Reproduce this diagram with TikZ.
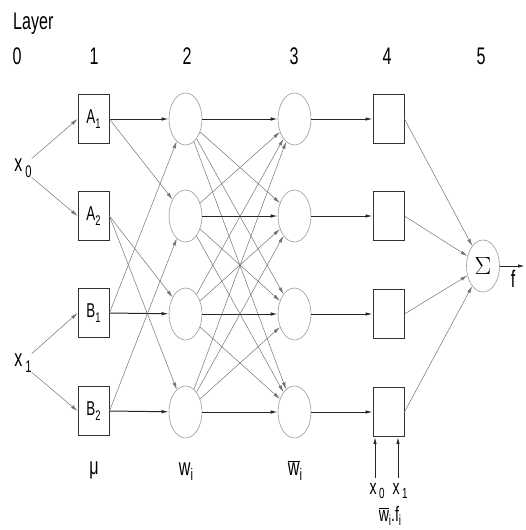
\documentclass[tikz,border=0pt]{standalone}
\usepackage{fontspec}
\setmainfont{Liberation Sans}[FakeStretch=0.67]
\usetikzlibrary{shapes.geometric,arrows.meta}
\newcommand{\lo}[1]{\raisebox{-0.45ex}{\scalebox{0.7}{#1}}}
\newcommand{\wbar}{$\overline{\mbox{w}}$}
\begin{document}
\begin{tikzpicture}[x=1pt,y=-1pt,
  tip/.style={-{Latex[length=7pt,width=3.5pt]}},
  strong/.style={tip, draw=black!85, line width=1pt},
  weak/.style={tip, draw=black!55, line width=0.5pt},
  box/.style={draw=black!80, line width=0.9pt, minimum width=31pt, minimum height=49pt, inner sep=0pt, font=\fontsize{20}{20}\selectfont},
  neuron/.style={ellipse, draw=black!40, line width=0.6pt, minimum width=33pt, minimum height=52pt, inner sep=0pt},
  lbl/.style={font=\fontsize{24}{24}\selectfont, inner sep=0pt},
  small/.style={font=\fontsize{21}{21}\selectfont, inner sep=0pt}]
\useasboundingbox (0,0) rectangle (526,530);
% header
\node[lbl, anchor=base west] (layer) at (13,29) {Layer};
\node[lbl, anchor=base] (h0) at (17,64) {0};
\node[lbl, anchor=base] (h1) at (94,64) {1};
\node[lbl, anchor=base] (h2) at (187,64) {2};
\node[lbl, anchor=base] (h3) at (294,64) {3};
\node[lbl, anchor=base] (h4) at (387,64) {4};
\node[lbl, anchor=base] (h5) at (481,64) {5};
% inputs
\node[lbl] (x0) at (23,168) {x\lo{\,0}};
\node[lbl] (x1) at (23,363) {x\lo{\,1}};
% layer 1
\node[box] (A1) at (93.5,119) {A\lo{1}};
\node[box] (A2) at (93.5,216) {A\lo{2}};
\node[box] (B1) at (93.5,313) {B\lo{1}};
\node[box] (B2) at (93.5,411) {B\lo{2}};
% layers 2-4
\foreach \i/\y in {1/119,2/216,3/314,4/412} {
  \node[neuron] (C\i) at (185.5,\y) {};
  \node[neuron] (D\i) at (294.5,\y) {};
  \node[box] (E\i) at (388.5,\y) {};
}
\node[neuron, font=\fontsize{26}{26}\selectfont] (S) at (483,266) {$\Sigma$};
\coordinate (fout) at (525,266);
\node[lbl, anchor=base] (f) at (513,287) {f};
% bottom labels
\node[lbl, anchor=base] (mu) at (94,474) {μ};
\node[lbl, anchor=base] (wi) at (186,475) {w\lo{i}};
\node[lbl, anchor=base] (wbi) at (295,475) {\wbar\lo{i}};
\node[small, anchor=base] (bx0) at (377,494) {x\lo{\,0}};
\node[small, anchor=base] (bx1) at (400,494) {x\lo{\,1}};
\node[small, anchor=base] (wf) at (390,521) {\wbar\lo{i}.f\lo{i}};
\coordinate (u0) at (375,478);
\coordinate (u1) at (398,478);
% connectors
\draw[weak] (x0.north east) -- (A1.west);
\draw[weak] (x0.south east) -- (A2.west);
\draw[weak] (x1.north east) -- (B1.west);
\draw[weak] (x1.south east) -- (B2.west);
\draw[strong] (A1.east) -- (C1);
\draw[weak] (A1.east) -- (C2);
\draw[weak] (A2.east) -- (C3);
\draw[weak] (A2.east) -- (C4);
\draw[strong] (B1.east) -- (C3);
\draw[weak] (B1.east) -- (C1);
\draw[strong] (B2.east) -- (C4);
\draw[weak] (B2.east) -- (C2);
\foreach \i in {1,...,4} {
  \foreach \j in {1,...,4} {
    \ifnum\i=\j
      \draw[strong] (C\i) -- (D\j);
    \else
      \draw[weak] (C\i) -- (D\j);
    \fi
  }
  \draw[strong] (D\i) -- (E\i.west);
  \draw[weak] (E\i.east) -- (S);
}
\draw[strong] (S) -- (fout);
\draw[strong] (u0) -- (E4.south -| u0);
\draw[strong] (u1) -- (E4.south -| u1);
\end{tikzpicture}
\end{document}
